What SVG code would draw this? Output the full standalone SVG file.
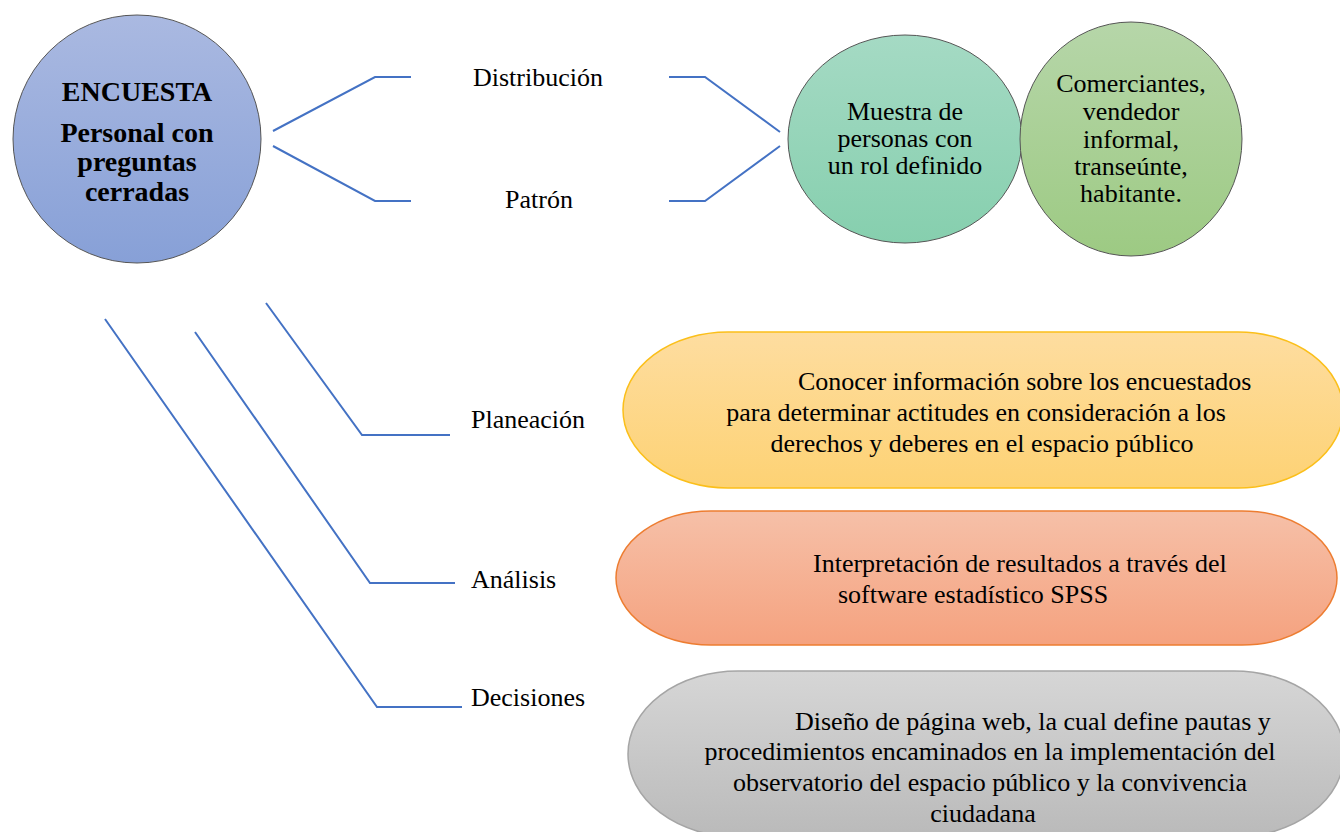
<svg xmlns="http://www.w3.org/2000/svg" width="1340" height="832" viewBox="0 0 1340 832">
<style>
text{font-family:"Liberation Serif","Times New Roman",serif;font-size:26px;fill:#000}
.title{font-weight:bold;font-size:28px}
.mid{text-anchor:middle}
.conn{fill:none;stroke:#4472c4;stroke-width:2}
</style>
<defs>
<linearGradient id="gBlue" x1="0" y1="0" x2="0" y2="1"><stop offset="0" stop-color="#aab9e1"/><stop offset="1" stop-color="#87a0d7"/></linearGradient>
<linearGradient id="gTeal" x1="0" y1="0" x2="0" y2="1"><stop offset="0" stop-color="#a5dac4"/><stop offset="1" stop-color="#86cfae"/></linearGradient>
<linearGradient id="gGreen" x1="0" y1="0" x2="0" y2="1"><stop offset="0" stop-color="#b6d6a9"/><stop offset="1" stop-color="#9dca83"/></linearGradient>
<linearGradient id="gYellow" x1="0" y1="0" x2="0" y2="1"><stop offset="0" stop-color="#fedda0"/><stop offset="1" stop-color="#fdd274"/></linearGradient>
<linearGradient id="gOrange" x1="0" y1="0" x2="0" y2="1"><stop offset="0" stop-color="#f6c0a8"/><stop offset="1" stop-color="#f5a27f"/></linearGradient>
<linearGradient id="gGray" x1="0" y1="0" x2="0" y2="1"><stop offset="0" stop-color="#d6d6d6"/><stop offset="1" stop-color="#bababa"/></linearGradient>
</defs>

<g id="connectors">
<polyline class="conn" points="273,131 375,77 411,77"/>
<polyline class="conn" points="273,146 375,201 411,201"/>
<polyline class="conn" points="669,77 705,77 780,132"/>
<polyline class="conn" points="669,201 705,201 780,146"/>
<polyline class="conn" points="266,303 362,435 450,435"/>
<polyline class="conn" points="195,332 370,583 455,583"/>
<polyline class="conn" points="105,319 377,707 462,707"/>
</g>

<g id="encuesta">
<ellipse cx="137" cy="139" rx="124" ry="124" fill="url(#gBlue)" stroke="#555" stroke-width="1"/>
<text class="title mid" x="137" y="101">ENCUESTA</text>
<text class="title mid" x="137" y="142">Personal con</text>
<text class="title mid" x="137" y="171">preguntas</text>
<text class="title mid" x="137" y="201">cerradas</text>
</g>

<g id="distribucion"><text x="473" y="86">Distribución</text></g>
<g id="patron"><text x="505" y="208">Patrón</text></g>

<g id="muestra">
<ellipse cx="905" cy="139" rx="117" ry="104" fill="url(#gTeal)" stroke="#555" stroke-width="1"/>
<text class="mid" x="905" y="120">Muestra de</text>
<text class="mid" x="905" y="147">personas con</text>
<text class="mid" x="905" y="174">un rol definido</text>
</g>

<g id="comerciantes">
<ellipse cx="1131" cy="139" rx="111" ry="117" fill="url(#gGreen)" stroke="#555" stroke-width="1"/>
<text class="mid" x="1131" y="92">Comerciantes,</text>
<text class="mid" x="1131" y="120">vendedor</text>
<text class="mid" x="1131" y="148">informal,</text>
<text class="mid" x="1131" y="175">transeúnte,</text>
<text class="mid" x="1131" y="202">habitante.</text>
</g>

<g id="planeacion"><text x="471" y="428">Planeación</text></g>
<g id="analisis"><text x="471" y="588">Análisis</text></g>
<g id="decisiones"><text x="471" y="706">Decisiones</text></g>

<g id="conocer">
<rect x="623" y="332" width="720" height="156" rx="105" ry="78" fill="url(#gYellow)" stroke="#fbbf1a" stroke-width="1.5"/>
<text x="798" y="390">Conocer información sobre los encuestados</text>
<text class="mid" x="976" y="421">para determinar actitudes en consideración a los</text>
<text class="mid" x="982" y="452">derechos y deberes en el espacio público</text>
</g>

<g id="interpretacion">
<rect x="616" y="511" width="721" height="134" rx="95" ry="67" fill="url(#gOrange)" stroke="#ed7d31" stroke-width="1.5"/>
<text x="813" y="572">Interpretación de resultados a través del</text>
<text x="838" y="603">software estadístico SPSS</text>
</g>

<g id="diseno">
<rect x="628" y="671" width="716" height="166" rx="110" ry="83" fill="url(#gGray)" stroke="#a5a5a5" stroke-width="1.5"/>
<text x="795" y="730">Diseño de página web, la cual define pautas y</text>
<text class="mid" x="990" y="760">procedimientos encaminados en la implementación del</text>
<text class="mid" x="990" y="791">observatorio del espacio público y la convivencia</text>
<text class="mid" x="983" y="822">ciudadana</text>
</g>
</svg>
